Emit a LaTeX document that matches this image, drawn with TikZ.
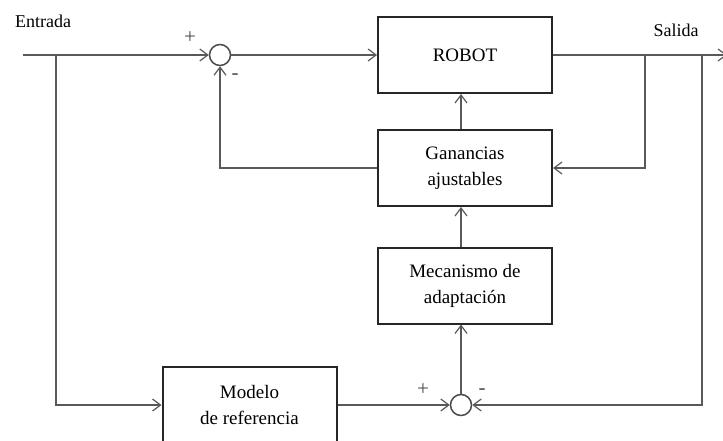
\documentclass[tikz,border=0pt]{standalone}
\usepackage{fontspec}
\setmainfont{Liberation Serif}
\usetikzlibrary{arrows.meta, positioning, calc}
\tikzset{
  block/.style  ={draw=black!85, line width=2pt, align=center,
                  minimum width=174pt, minimum height=76pt,
                  font=\fontsize{19}{26}\selectfont},
  sumnode/.style={draw=black!70, line width=1.5pt, circle,
                  minimum size=21pt, inner sep=0pt},
  wire/.style   ={draw=black!65, line width=1.6pt},
  arr/.style    ={wire, -{Straight Barb[length=8pt, width=12pt, line width=1.2pt]}},
  sgn/.style    ={font=\fontsize{21}{21}\selectfont, inner sep=0pt, text=black!70},
  lbl/.style    ={font=\fontsize{18}{20}\selectfont, inner sep=0pt},
}

\begin{document}
\begin{tikzpicture}[x=1pt, y=-1pt]
  \useasboundingbox (0,0) rectangle (723,441);

  % blocks
  \node[block] (robot) at (465,55)    {ROBOT};
  \node[block] (gain)  at (465,168)   {Ganancias\\ajustables};
  \node[block] (adapt) at (465,285.5) {Mecanismo de\\adaptaci\'on};
  \node[block] (model) at (249.5,405) {Modelo\\de referencia};

  % summing points
  \node[sumnode] (sum1) at (220,55)  {};
  \node[sumnode] (sum2) at (461,405) {};

  % input, output and branch points
  \coordinate (in)   at (23,55);
  \coordinate (out)  at (727,55);
  \coordinate (tap1) at (56,55);
  \coordinate (tap2) at (645,55);
  \coordinate (tap3) at (702,55);

  % forward path
  \draw[arr] (in) -- (sum1);
  \draw[arr] (sum1) -- (sum1 -| robot.west);
  \draw[arr] (robot) -- (out);

  % reference model
  \draw[arr] (tap1) |- (model);
  \draw[arr] (model) -- (sum2);
  \draw[arr] (tap3) |- (sum2);

  % adaptation loop
  \draw[arr] (sum2) -- (sum2 |- adapt.south);
  \draw[arr] (adapt.north -| sum2) -- (gain.south -| sum2);
  \draw[arr] (gain.north -| sum2) -- (robot.south -| sum2);
  \draw[arr] (tap2) |- (gain);
  \draw[arr] (gain) -| (sum1);

  % signs and labels
  \node[sgn] (p1) at (190,38)  {+};
  \node[sgn] (m1) at (235,77)  {-};
  \node[sgn] (p2) at (423,390) {+};
  \node[sgn] (m2) at (482,392) {-};
  \node[lbl] (entrada) at (43,21) {Entrada};
  \node[lbl] (salida)  at (676,30) {Salida};
\end{tikzpicture}
\end{document}
